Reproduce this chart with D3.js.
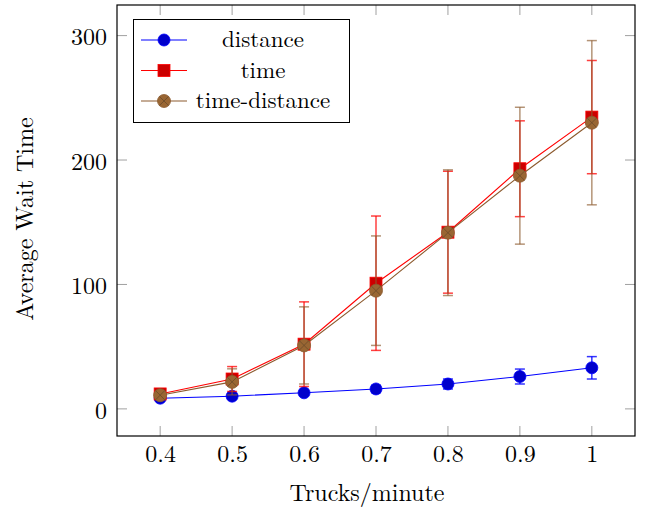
<!DOCTYPE html>
<html>
<head>
<meta charset="utf-8">
<script src="https://cdn.jsdelivr.net/npm/d3@7"></script>
<style>
  body { margin: 0; background: #fff; }
</style>
</head>
<body>
<svg width="646" height="512"></svg>
<script>
// data
const rates = [0.4, 0.5, 0.6, 0.7, 0.8, 0.9, 1.0];
const distanceVals = [8.6, 10.2, 12.9, 16, 20, 26, 33];
const distanceErr = [1, 1.5, 2, 3, 4, 6, 9];
const timeVals = [12, 24, 52, 101, 142, 193, 234.5];
const timeErr = [3, 10, 34, 54, 49, 38.5, 45.5];
const tdVals = [11, 21.7, 51, 95, 141.6, 187.4, 230];
const tdErr = [3, 10.5, 31, 44, 50.5, 55, 66];
const xTicks = [0.4, 0.5, 0.6, 0.7, 0.8, 0.9, 1];
const yTicks = [0, 100, 200, 300];
const seriesNames = ["distance", "time", "time-distance"];

const svg = d3.select("svg");
const pLeft = 117, pRight = 635, pTop = 5, pBottom = 436;
const fontFam = '"Latin Modern Roman", "Liberation Serif", serif';
const fontSize = "24px";

const x = d3.scaleLinear().domain([0.34, 1.06]).range([pLeft, pRight]);
const y = d3.scaleLinear().domain([-21.8, 324.6]).range([pBottom, pTop]);

const series = [
  {name: seriesNames[0], vals: distanceVals, err: distanceErr, line: "#0000ff", fill: "#0000cc", errColor: "#0000ff", errOp: 0.8, mark: "circle"},
  {name: seriesNames[1], vals: timeVals, err: timeErr, line: "#ff0000", fill: "#cc0000", errColor: "#ff0000", errOp: 0.75, mark: "square"},
  {name: seriesNames[2], vals: tdVals, err: tdErr, line: "#8c5a2e", fill: "#996633", errColor: "#8c5a2e", errOp: 0.65, mark: "otimes"}
];

// ticks (inside, mirrored)
const tickLen = 10, tickColor = "#a0a0a0";
const ticks = svg.append("g");
xTicks.forEach(t => {
  ticks.append("line").attr("x1", x(t)).attr("x2", x(t)).attr("y1", pBottom).attr("y2", pBottom - tickLen)
    .attr("stroke", tickColor).attr("stroke-width", 1);
  ticks.append("line").attr("x1", x(t)).attr("x2", x(t)).attr("y1", pTop).attr("y2", pTop + tickLen)
    .attr("stroke", tickColor).attr("stroke-width", 1);
});
yTicks.forEach(t => {
  ticks.append("line").attr("y1", y(t)).attr("y2", y(t)).attr("x1", pLeft).attr("x2", pLeft + tickLen)
    .attr("stroke", tickColor).attr("stroke-width", 1);
  ticks.append("line").attr("y1", y(t)).attr("y2", y(t)).attr("x1", pRight).attr("x2", pRight - tickLen)
    .attr("stroke", tickColor).attr("stroke-width", 1);
});

// tick labels via d3 axes (tick lines hidden)
const xAxis = svg.append("g").attr("transform", `translate(0,${pBottom})`)
  .call(d3.axisBottom(x).tickValues(xTicks).tickSize(0).tickPadding(9).tickFormat(d => d3.format("")(d)));
const yAxis = svg.append("g").attr("transform", `translate(${pLeft},1.5)`)
  .call(d3.axisLeft(y).tickValues(yTicks).tickSize(0).tickPadding(10));
[xAxis, yAxis].forEach(a => {
  a.select(".domain").remove();
  a.selectAll("text").style("font-family", fontFam).style("font-size", fontSize).attr("fill", "#000");
});

svg.append("text").attr("x", (pLeft + pRight) / 2 - 9).attr("y", 501).attr("text-anchor", "middle")
  .style("font-family", fontFam).style("font-size", fontSize).text("Trucks/minute");
svg.append("text").attr("transform", `translate(33,219) rotate(-90)`)
  .attr("text-anchor", "middle").style("font-family", fontFam).style("font-size", fontSize).text("Average Wait Time");

const plot = svg.append("g");

function drawMark(g, type, cx, cy, s) {
  if (type === "circle") {
    g.append("circle").attr("cx", cx).attr("cy", cy).attr("r", 6)
      .attr("fill", s.fill).attr("stroke", s.line).attr("stroke-width", 0.8);
  } else if (type === "square") {
    g.append("rect").attr("x", cx - 6).attr("y", cy - 6).attr("width", 12).attr("height", 12)
      .attr("fill", s.fill).attr("stroke", s.line).attr("stroke-width", 0.8);
  } else {
    g.append("circle").attr("cx", cx).attr("cy", cy).attr("r", 6.5)
      .attr("fill", s.fill).attr("stroke", s.line).attr("stroke-width", 0.8);
    const d = 6.5 * Math.SQRT1_2;
    g.append("path").attr("d", `M${cx - d},${cy - d}L${cx + d},${cy + d}M${cx - d},${cy + d}L${cx + d},${cy - d}`)
      .attr("stroke", "#6b4a2a").attr("stroke-width", 0.8);
  }
}

const line = d3.line().x(d => x(d[0])).y(d => y(d[1]));

series.forEach(s => {
  const g = plot.append("g");
  const pts = rates.map((r, i) => [r, s.vals[i], s.err[i]]);
  // error bars
  pts.forEach(p => {
    const e = g.append("g").attr("stroke", s.errColor).attr("stroke-opacity", s.errOp).attr("stroke-width", 1.5);
    e.append("line").attr("x1", x(p[0])).attr("x2", x(p[0])).attr("y1", y(p[1] - p[2])).attr("y2", y(p[1] + p[2]));
    e.append("line").attr("x1", x(p[0]) - 5).attr("x2", x(p[0]) + 5).attr("y1", y(p[1] - p[2])).attr("y2", y(p[1] - p[2]));
    e.append("line").attr("x1", x(p[0]) - 5).attr("x2", x(p[0]) + 5).attr("y1", y(p[1] + p[2])).attr("y2", y(p[1] + p[2]));
  });
  g.append("path").datum(pts).attr("d", line).attr("fill", "none").attr("stroke", s.line).attr("stroke-width", 1.1);
  pts.forEach(p => drawMark(g, s.mark, x(p[0]), y(p[1]), s));
});

// frame
svg.append("rect").attr("x", pLeft).attr("y", pTop).attr("width", pRight - pLeft).attr("height", pBottom - pTop)
  .attr("fill", "none").attr("stroke", "#000").attr("stroke-width", 1.2);

// legend
const lg = svg.append("g");
lg.append("rect").attr("x", 133.5).attr("y", 19.5).attr("width", 216).attr("height", 103)
  .attr("fill", "#fff").attr("stroke", "#000").attr("stroke-width", 1);
series.forEach((s, i) => {
  const cy = 40 + i * 30.5;
  lg.append("line").attr("x1", 141).attr("x2", 187).attr("y1", cy).attr("y2", cy)
    .attr("stroke", s.line).attr("stroke-width", 1.1);
  drawMark(lg, s.mark, 164, cy, s);
  lg.append("text").attr("x", 263).attr("y", cy + 7).attr("text-anchor", "middle")
    .style("font-family", fontFam).style("font-size", "23px").text(s.name);
});
</script>
</body>
</html>
